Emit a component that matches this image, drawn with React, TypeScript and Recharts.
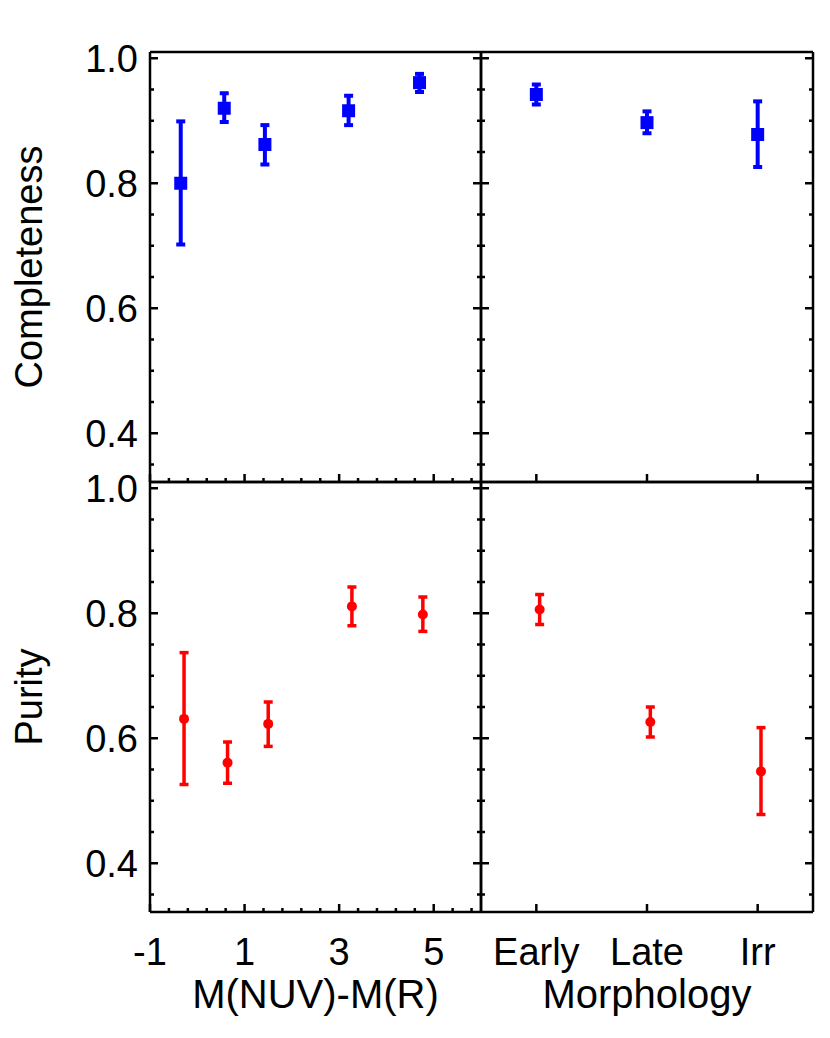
import React from "react";
import { ScatterChart, Scatter, XAxis, YAxis, ErrorBar } from "recharts";

const W = 830;
const H = 1038;
const FONT = '"Liberation Sans", Arial, Helvetica, sans-serif';

// panel frame edges on the page
const LEFT = 150;
const MIDX = 481;
const RIGHT = 813;
const TOP = 52;
const MIDY = 482;
const BOTTOM = 912;

// colour bins, completeness (blue)
const colorXComp = [-0.35, 0.57, 1.43, 3.2, 4.7];
const colorComp = [0.8, 0.92, 0.862, 0.916, 0.961];
const colorCompLo = [0.702, 0.898, 0.83, 0.893, 0.946];
const colorCompHi = [0.899, 0.944, 0.893, 0.94, 0.975];

// colour bins, purity (red)
const colorXPur = [-0.28, 0.64, 1.5, 3.27, 4.77];
const colorPur = [0.631, 0.561, 0.623, 0.811, 0.798];
const colorPurLo = [0.526, 0.528, 0.587, 0.78, 0.771];
const colorPurHi = [0.737, 0.594, 0.658, 0.842, 0.826];

// morphology bins
const morphXComp = [1, 2, 3];
const morphComp = [0.942, 0.897, 0.878];
const morphCompLo = [0.926, 0.88, 0.826];
const morphCompHi = [0.958, 0.915, 0.931];

const morphXPur = [1.03, 2.03, 3.03];
const morphPur = [0.806, 0.626, 0.547];
const morphPurLo = [0.782, 0.602, 0.478];
const morphPurHi = [0.83, 0.65, 0.617];

// axes
const yDomain = [0.322, 1.01];
const yTicks = [0.35, 0.4, 0.45, 0.5, 0.55, 0.6, 0.65, 0.7, 0.75, 0.8, 0.85, 0.9, 0.95, 1.0];
const yMajor = [0.4, 0.6, 0.8, 1.0];
const yLabels = ["0.4", "0.6", "0.8", "1.0"];

const colorDomain = [-1, 6];
const colorTicks = [-1, -0.6, -0.2, 0.2, 0.6, 1, 1.4, 1.8, 2.2, 2.6, 3, 3.4, 3.8, 4.2, 4.6, 5, 5.4, 5.8];
const colorMajor = [-1, 1, 3, 5];
const colorLabels = ["-1", "1", "3", "5"];

const morphDomain = [0.5, 3.5];
const morphTicks = [1, 2, 3];
const morphLabels = ["Early", "Late", "Irr"];

function rows(xs: number[], ys: number[], lo: number[], hi: number[]) {
  return xs.map((x, i) => ({ x, y: ys[i], err: [ys[i] - lo[i], hi[i] - ys[i]] }));
}

type Side = "left" | "right" | "top" | "bottom";

function makeTick(side: Side, majors: number[], labels: string[] | null) {
  return (props: any) => {
    const { x, y, payload } = props;
    const v = payload.value;
    const idx = majors.findIndex((m) => Math.abs(m - v) < 1e-6);
    const len = idx >= 0 ? 8 : 4;
    let x2 = x;
    let y2 = y;
    if (side === "left") x2 = x + len;
    if (side === "right") x2 = x - len;
    if (side === "top") y2 = y + len;
    if (side === "bottom") y2 = y - len;
    const label = labels && idx >= 0 ? labels[idx] : null;
    return (
      <g>
        <line x1={x} y1={y} x2={x2} y2={y2} stroke="#000" strokeWidth={2.5} />
        {label && side === "left" && (
          <text x={x - 12} y={y + 14} textAnchor="end" fontSize={38} fontFamily={FONT} fill="#000">
            {label}
          </text>
        )}
        {label && side === "bottom" && (
          <text x={x} y={y + 53} textAnchor="middle" fontSize={38} fontFamily={FONT} fill="#000">
            {label}
          </text>
        )}
      </g>
    );
  };
}

const Square = (p: any) => (
  <rect x={p.cx - 6.5} y={p.cy - 6.5} width={13} height={13} fill="#0000ff" />
);
const Dot = (p: any) => <circle cx={p.cx} cy={p.cy} r={5} fill="#ff0000" />;

type PanelProps = {
  left: number;
  right: number;
  top: number;
  bottom: number;
  data: { x: number; y: number; err: number[] }[];
  color: string;
  barWidth: number;
  shape: any;
  xDomain: number[];
  xTicks: number[];
  xMajor: number[];
  xLabels: string[] | null;
  yLabels: string[] | null;
  xTitle?: string;
  yTitle?: string;
};

// axes need a non-zero size to be drawn; 1px each, taken off the margins
const AX = 1;

function Panel(p: PanelProps) {
  const cx = (p.left + p.right) / 2;
  const cy = (p.top + p.bottom) / 2;
  const frame = { stroke: "#000", strokeWidth: 2.5 };
  return (
    <div style={{ position: "absolute", left: 0, top: 0 }}>
      <ScatterChart
        width={W}
        height={H}
        margin={{
          top: p.top - AX,
          left: p.left - AX,
          right: W - p.right - AX,
          bottom: H - p.bottom - AX,
        }}
      >
        <XAxis
          type="number"
          dataKey="x"
          xAxisId="b"
          orientation="bottom"
          domain={p.xDomain}
          allowDataOverflow
          ticks={p.xTicks}
          interval={0}
          height={AX}
          tickSize={0}
          tickMargin={0}
          tickLine={false}
          axisLine={frame}
          tick={makeTick("bottom", p.xMajor, p.xLabels)}
          label={
            p.xTitle
              ? {
                  content: () => (
                    <text x={cx} y={p.bottom + 96} textAnchor="middle" fontSize={40} fontFamily={FONT} fill="#000">
                      {p.xTitle}
                    </text>
                  ),
                }
              : undefined
          }
        />
        <XAxis
          type="number"
          xAxisId="t"
          orientation="top"
          domain={p.xDomain}
          allowDataOverflow
          ticks={p.xTicks}
          interval={0}
          height={AX}
          tickSize={0}
          tickMargin={0}
          tickLine={false}
          axisLine={frame}
          tick={makeTick("top", p.xMajor, null)}
        />
        <YAxis
          type="number"
          dataKey="y"
          yAxisId="l"
          orientation="left"
          domain={yDomain}
          allowDataOverflow
          ticks={yTicks}
          interval={0}
          width={AX}
          tickSize={0}
          tickMargin={0}
          tickLine={false}
          axisLine={frame}
          tick={makeTick("left", yMajor, p.yLabels)}
          label={
            p.yTitle
              ? {
                  content: () => (
                    <text
                      x={42}
                      y={cy}
                      transform={`rotate(-90, 42, ${cy})`}
                      textAnchor="middle"
                      fontSize={38}
                      fontFamily={FONT}
                      fill="#000"
                    >
                      {p.yTitle}
                    </text>
                  ),
                }
              : undefined
          }
        />
        <YAxis
          type="number"
          yAxisId="r"
          orientation="right"
          domain={yDomain}
          allowDataOverflow
          ticks={yTicks}
          interval={0}
          width={AX}
          tickSize={0}
          tickMargin={0}
          tickLine={false}
          axisLine={frame}
          tick={makeTick("right", yMajor, null)}
        />
        <Scatter data={p.data} xAxisId="b" yAxisId="l" shape={p.shape} isAnimationActive={false}>
          <ErrorBar
            dataKey="err"
            direction="y"
            width={4.5}
            stroke={p.color}
            strokeWidth={p.barWidth}
            isAnimationActive={false}
          />
        </Scatter>
      </ScatterChart>
    </div>
  );
}

export default function App() {
  return (
    <div style={{ position: "absolute", left: 0, top: 0, width: W, height: H, background: "#fff" }}>
      <Panel
        left={LEFT}
        right={MIDX}
        top={TOP}
        bottom={MIDY}
        data={rows(colorXComp, colorComp, colorCompLo, colorCompHi)}
        color="#0000ff"
        barWidth={4}
        shape={Square}
        xDomain={colorDomain}
        xTicks={colorTicks}
        xMajor={colorMajor}
        xLabels={null}
        yLabels={yLabels}
        yTitle="Completeness"
      />
      <Panel
        left={MIDX}
        right={RIGHT}
        top={TOP}
        bottom={MIDY}
        data={rows(morphXComp, morphComp, morphCompLo, morphCompHi)}
        color="#0000ff"
        barWidth={4}
        shape={Square}
        xDomain={morphDomain}
        xTicks={morphTicks}
        xMajor={morphTicks}
        xLabels={null}
        yLabels={null}
      />
      <Panel
        left={LEFT}
        right={MIDX}
        top={MIDY}
        bottom={BOTTOM}
        data={rows(colorXPur, colorPur, colorPurLo, colorPurHi)}
        color="#ff0000"
        barWidth={3.5}
        shape={Dot}
        xDomain={colorDomain}
        xTicks={colorTicks}
        xMajor={colorMajor}
        xLabels={colorLabels}
        yLabels={yLabels}
        xTitle="M(NUV)-M(R)"
        yTitle="Purity"
      />
      <Panel
        left={MIDX}
        right={RIGHT}
        top={MIDY}
        bottom={BOTTOM}
        data={rows(morphXPur, morphPur, morphPurLo, morphPurHi)}
        color="#ff0000"
        barWidth={3.5}
        shape={Dot}
        xDomain={morphDomain}
        xTicks={morphTicks}
        xMajor={morphTicks}
        xLabels={morphLabels}
        yLabels={null}
        xTitle="Morphology"
      />
    </div>
  );
}
